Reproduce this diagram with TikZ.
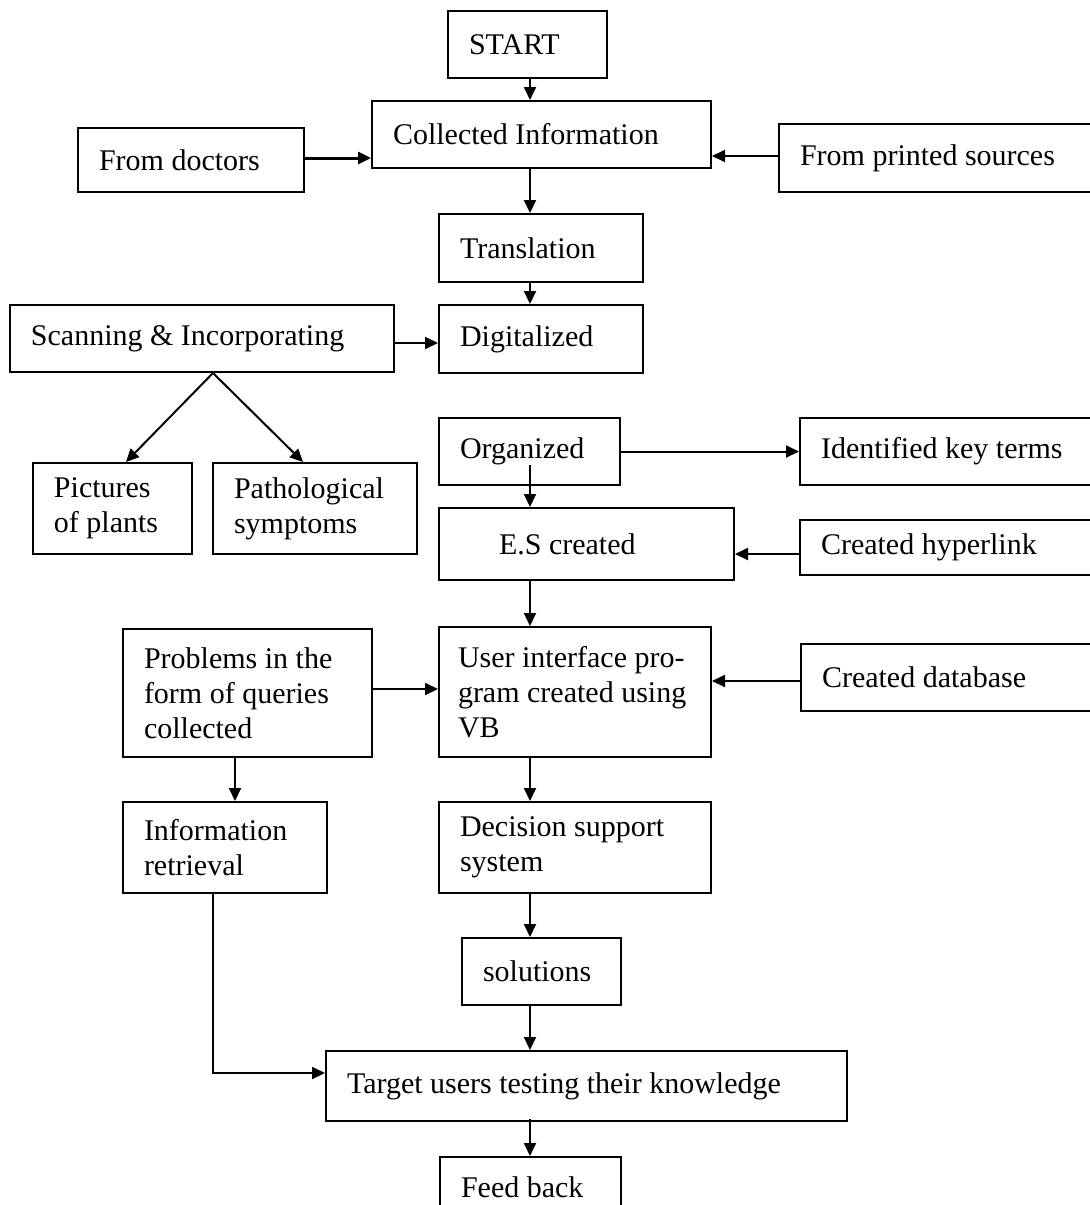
\documentclass[tikz,border=0pt]{standalone}
\usepackage{fontspec}
\setmainfont{Liberation Serif}
\usetikzlibrary{arrows.meta,calc}
\newcommand{\linew}{1pt}
\newcommand{\inset}{10.5pt}

\begin{document}
\begin{tikzpicture}[x=0.5pt,y=-0.5pt]
    %\draw[help lines] (0,0) grid[step=100] (1089,1205);
    \tikzset{stepnode/.style={draw, line width=\linew, anchor=north west, align=flush left,
            inner xsep=\inset, inner ysep=0pt, font=\fontsize{15pt}{17.5pt}\selectfont},
        arr/.style={line width=\linew, -{Triangle[length=6.5pt,width=6pt]}}}
    \useasboundingbox (0,0) rectangle (1089,1205);
        \coordinate (ax) at (530,0);
        \coordinate (qx) at (235,0);
        \coordinate (rx) at (213,0);
        \node[stepnode, text width=58.5pt, minimum height=33.5pt] (start) at (447,10) {START};
        \node[stepnode, text width=148.5pt, minimum height=33.5pt] (coll) at (371,100) {Collected Information};
        \node[stepnode, text width=92pt, minimum height=32pt] (doc) at (77,127) {From doctors};
        \node[stepnode, text width=144pt, minimum height=34pt] (print) at (778,123) {From printed sources};
        \node[stepnode, text width=81pt, minimum height=34pt] (trans) at (438,213) {Translation};
        \node[stepnode, text width=171pt, minimum height=33.5pt] (scan) at (9,304) {Scanning \& Incorporating};
        \node[stepnode, text width=81pt, minimum height=34pt] (digi) at (438,304) {Digitalized};
        \node[stepnode, text width=58.5pt, minimum height=45.5pt] (pict) at (32,462) {Pictures\\of plants};
        \node[stepnode, text width=81pt, minimum height=45.5pt] (path) at (212,462) {Pathological\\symptoms};
        \node[stepnode, text width=69.5pt, minimum height=33.5pt] (org) at (438,417) {Organized};
        \node[stepnode, text width=134pt, minimum height=33.5pt] (ident) at (799,417) {Identified key terms};
        \node[stepnode, inner xsep=30pt, text width=87.5pt, minimum height=36pt] (es) at (438,507) {E.S created};
        \node[stepnode, text width=134pt, minimum height=27.5pt] (hyper) at (799,519) {Created hyperlink};
        \node[stepnode, text width=103.5pt, minimum height=64pt] (prob) at (122,628) {Problems in the\\form of queries\\collected};
        \node[stepnode, inner xsep=9.5pt, text width=117pt, minimum height=65pt] (ui) at (438,626) {User interface pro-\\gram created using\\VB};
        \node[stepnode, text width=134pt, minimum height=33.5pt] (dbase) at (800,643) {Created database};
        \node[stepnode, text width=81pt, minimum height=45.5pt] (info) at (122,801) {Information\\retrieval};
        \node[stepnode, text width=115pt, minimum height=45.5pt] (dss) at (438,801) {Decision support\\system};
        \node[stepnode, text width=58.5pt, minimum height=33.5pt] (sol) at (461,937) {solutions};
        \node[stepnode, text width=239.5pt, minimum height=35pt] (target) at (325,1050) {Target users testing their knowledge};
        \node[stepnode, text width=69.5pt, minimum height=30pt] (feed) at (439,1156) {Feed back};

        \draw[arr] (start.south -| ax) -- (coll.north -| ax);
        \draw[arr, line width=1.5pt] ([yshift=1pt]doc.east) -- ([yshift=1pt]doc.east -| coll.west);
        \draw[arr] ([yshift=1pt]print.west) -- ([yshift=1pt]print.west -| coll.east);
        \draw[arr] (coll.south -| ax) -- (trans.north -| ax);
        \draw[arr] (trans.south -| ax) -- (digi.north -| ax);
        \draw[arr] ([yshift=-2.25pt]scan.east) -- ([yshift=-2.25pt]scan.east -| digi.west);
        \draw[arr] ([xshift=5.5pt]scan.south) -- ([xshift=6.75pt]pict.north);
        \draw[arr] ([xshift=5.5pt]scan.south) -- ([xshift=-6pt]path.north);
        \draw[arr] (org.east) -- (org.east -| ident.west);
        \draw[arr] ([yshift=10.5pt]org.south -| ax) -- (es.north -| ax);
        \draw[arr] ([yshift=-3.25pt]hyper.west) -- ([yshift=-3.25pt]hyper.west -| es.east);
        \draw[arr] (es.south -| ax) -- (ui.north -| ax);
        \draw[arr] ([yshift=2pt]prob.east) -- ([yshift=2pt]prob.east -| ui.west);
        \draw[arr] ([yshift=-1.75pt]dbase.west) -- ([yshift=-1.75pt]dbase.west -| ui.east);
        \draw[arr] (prob.south -| qx) -- (info.north -| qx);
        \draw[arr] (ui.south -| ax) -- (dss.north -| ax);
        \draw[arr] (info.south -| rx) |- ([yshift=6.5pt]target.west);
        \draw[arr] (dss.south -| ax) -- (sol.north -| ax);
        \draw[arr] (sol.south -| ax) -- (target.north -| ax);
        \draw[arr] ([yshift=1.5pt]target.south -| ax) -- (feed.north -| ax);

\end{tikzpicture}
\end{document}
